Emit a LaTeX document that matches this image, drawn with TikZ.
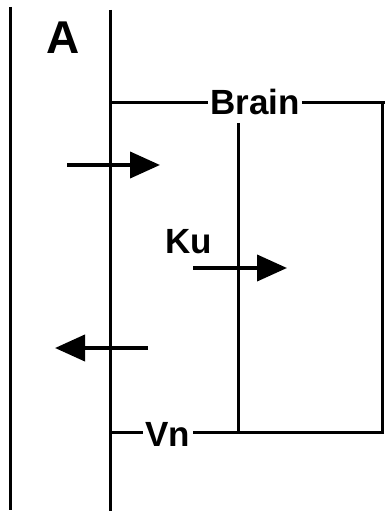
\documentclass[tikz,border=0pt]{standalone}
\usepackage{fontspec}
\setmainfont{Liberation Sans}
\usetikzlibrary{arrows.meta}
\begin{document}
\begin{tikzpicture}[x=1pt,y=-1pt,
  wall/.style={line width=3pt},
  flux/.style={line width=4pt,-{Triangle[length=30pt,width=26pt]}},
  lbl/.style={font=\bfseries\fontsize{35}{40}\selectfont,inner sep=2pt}]
\useasboundingbox (0,0) rectangle (385,518);
% membranes
\coordinate (m1t) at (10,7);   \coordinate (m1b) at (10,510);
\coordinate (m2t) at (110,10); \coordinate (m2b) at (110,511);
\draw[wall] (m1t) -- (m1b);
\draw[wall] (m2t) -- (m2b);
% labels
\node[lbl,font=\bfseries\fontsize{46}{50}\selectfont] (A) at (63,38) {A};
\node[lbl] (brain) at (255,102) {Brain};
\node[lbl] (ku) at (189,242) {Ku};
\node[lbl] (vn) at (168,434) {Vn};
% compartment outline
\coordinate (jt) at (110,103);
\coordinate (jb) at (110,432);
\coordinate (tr) at (382,103);
\coordinate (te) at (385,103);
\coordinate (br) at (382,432);
\coordinate (ct) at (238,123);
\coordinate (cb) at (238,432);
\draw[wall] (jt) -- (jt -| brain.west);
\draw[wall] (brain.east |- jt) -- (te);
\draw[wall] (tr) -- (br) -- (br -| vn.east);
\draw[wall] (jb) -- (jb -| vn.west);
\draw[wall] (ct) -- (cb);
% fluxes
\coordinate (f1a) at (67,165);  \coordinate (f1b) at (160,165);
\coordinate (f2a) at (193,268); \coordinate (f2b) at (287,268);
\coordinate (f3a) at (148,348); \coordinate (f3b) at (55,348);
\draw[flux] (f1a) -- (f1b);
\draw[flux] (f2a) -- (f2b);
\draw[flux] (f3a) -- (f3b);
\end{tikzpicture}
\end{document}
